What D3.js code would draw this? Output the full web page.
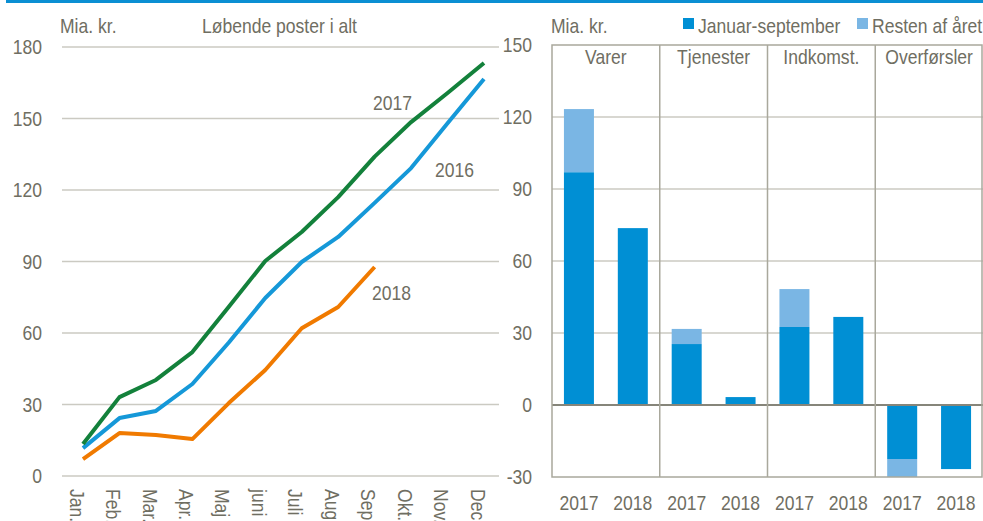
<!DOCTYPE html>
<html>
<head>
<meta charset="utf-8">
<script src="https://cdn.jsdelivr.net/npm/d3@7"></script>
<style>
  body { margin: 0; background: #fff; }
  text { font-family: "Liberation Sans Narrow", "Arial Narrow", "Liberation Sans", sans-serif; fill: #6f6e62; }
</style>
</head>
<body>
<svg id="chart" width="983" height="521"></svg>
<script>
// left panel: cumulative current account, bn kr.
const months = ["Jan.", "Feb.", "Mar.", "Apr.", "Maj", "juni", "Juli", "Aug.", "Sep.", "Okt.", "Nov.", "Dec."];
const y2016 = [11.7, 24.3, 27.3, 38.6, 56, 74.7, 89.8, 100.3, 114.6, 129.2, 148, 166.6];
const y2017 = [13.4, 33.1, 40.3, 52, 71, 90.2, 102.4, 117, 134, 148.5, 160.7, 173.3];
const y2018 = [7.1, 18, 17.2, 15.5, 30.6, 44.5, 62, 70.9, 87.7];
const leftTicks = [0, 30, 60, 90, 120, 150, 180];

// right panel: by component
const groups = ["Varer", "Tjenester", "Indkomst.", "Overførsler"];
const years = ["2017", "2018"];
const janSep = [[97, 73.7], [25.4, 3.3], [32.5, 36.7], [-22.5, -26.7]];
const rest = [[26.3, 0], [6.3, 0], [15.8, 0], [-7.5, 0]];
const rightTicks = [-30, 0, 30, 60, 90, 120, 150];

const svg = d3.select("#chart");
const fs = 21;
const gridCol = "#cbcac2", boxCol = "#a9a89c";

// top blue rule
svg.append("rect").attr("x", 6).attr("y", 0).attr("width", 977).attr("height", 3).attr("fill", "#0a8fd3");

// ---------- left ----------
const xL = d3.scalePoint().domain(months).range([83, 484]);
const yL = d3.scaleLinear().domain([0, 180]).range([476, 47]);

svg.append("g").selectAll("line").data(leftTicks).join("line")
    .attr("x1", 62).attr("x2", 499)
    .attr("y1", d => yL(d)).attr("y2", d => yL(d))
    .attr("stroke", gridCol).attr("stroke-width", 1.5);

svg.append("g").selectAll("text").data(leftTicks).join("text")
    .attr("x", 42).attr("y", d => yL(d)).attr("dy", "0.35em")
    .attr("text-anchor", "end").attr("font-size", fs).text(d => d);

svg.append("g").selectAll("text").data(months).join("text")
    .attr("transform", d => "translate(" + (xL(d) - 6) + ",489) rotate(90)")
    .attr("dy", "0.35em").attr("font-size", fs).text(d => d);

const line = d3.line().x((d, i) => xL(months[i])).y(d => yL(d));
const series = [
    {name: "2016", values: y2016, color: "#1598d8", lx: 435, ly: 177},
    {name: "2017", values: y2017, color: "#13813b", lx: 373, ly: 110},
    {name: "2018", values: y2018, color: "#f07a00", lx: 372, ly: 300}
];
svg.append("g").selectAll("path").data(series).join("path")
    .attr("d", d => line(d.values))
    .attr("fill", "none").attr("stroke", d => d.color)
    .attr("stroke-width", 4).attr("stroke-linejoin", "round");
svg.append("g").selectAll("text").data(series).join("text")
    .attr("x", d => d.lx).attr("y", d => d.ly).attr("font-size", fs).text(d => d.name);

svg.append("text").attr("x", 60).attr("y", 33).attr("font-size", fs).text("Mia. kr.");
svg.append("text").attr("x", 202).attr("y", 33).attr("font-size", fs).text("Løbende poster i alt");

// ---------- right ----------
const x0 = 552, x1 = 983;
const xG = d3.scaleBand().domain(groups).range([x0, x1]);
const xY = d3.scaleBand().domain(years).range([0, xG.bandwidth()]);
const yR = d3.scaleLinear().domain([-30, 150]).range([477, 45]);
const barW = 30;

svg.append("g").selectAll("line").data(rightTicks.filter(t => t > -30 && t < 150 && t != 0)).join("line")
    .attr("x1", x0).attr("x2", x1)
    .attr("y1", d => yR(d)).attr("y2", d => yR(d))
    .attr("stroke", gridCol).attr("stroke-width", 1.5);

svg.append("g").selectAll("text").data(rightTicks).join("text")
    .attr("x", 532).attr("y", d => yR(d)).attr("dy", "0.35em")
    .attr("text-anchor", "end").attr("font-size", fs).text(d => d);

const bars = [];
groups.forEach((g, gi) => years.forEach((yr, yi) => {
    const a = janSep[gi][yi], b = rest[gi][yi];
    bars.push({g: g, yr: yr, y0: 0, y1: a, color: "#008fd4"});
    if (b != 0) bars.push({g: g, yr: yr, y0: a, y1: a + b, color: "#7ab6e4"});
}));

svg.append("g").selectAll("rect").data(bars).join("rect")
    .attr("x", d => xG(d.g) + xY(d.yr) + (xY.bandwidth() - barW) / 2)
    .attr("width", barW)
    .attr("y", d => yR(Math.max(d.y0, d.y1)))
    .attr("height", d => Math.abs(yR(d.y0) - yR(d.y1)))
    .attr("fill", d => d.color);

// zero line
svg.append("line").attr("x1", x0).attr("x2", x1).attr("y1", yR(0)).attr("y2", yR(0))
    .attr("stroke", "#86857a").attr("stroke-width", 2);

// panel box and dividers
svg.append("rect").attr("x", x0).attr("y", yR(150)).attr("width", x1 - x0 - 1).attr("height", yR(-30) - yR(150))
    .attr("fill", "none").attr("stroke", boxCol).attr("stroke-width", 1.5);
svg.append("g").selectAll("line").data(groups.slice(1)).join("line")
    .attr("x1", d => xG(d)).attr("x2", d => xG(d))
    .attr("y1", yR(150)).attr("y2", yR(-30))
    .attr("stroke", boxCol).attr("stroke-width", 1.5);

svg.append("g").selectAll("text").data(groups).join("text")
    .attr("x", d => xG(d) + xG.bandwidth() / 2).attr("y", 64)
    .attr("text-anchor", "middle").attr("font-size", fs).text(d => d);

svg.append("g").selectAll("text").data(bars.filter(d => d.y0 == 0)).join("text")
    .attr("x", d => xG(d.g) + xY(d.yr) + xY.bandwidth() / 2).attr("y", 510)
    .attr("text-anchor", "middle").attr("font-size", fs).text(d => d.yr);

svg.append("text").attr("x", 551).attr("y", 33).attr("font-size", fs).text("Mia. kr.");

const legend = [{name: "Januar-september", color: "#008fd4", x: 683}, {name: "Resten af året", color: "#7ab6e4", x: 857}];
const lg = svg.append("g").selectAll("g").data(legend).join("g")
    .attr("transform", d => "translate(" + d.x + ",18)");
lg.append("rect").attr("width", 11).attr("height", 11).attr("fill", d => d.color);
lg.append("text").attr("x", 15).attr("y", 15).attr("font-size", fs).text(d => d.name);

// no narrow font installed: squeeze glyphs to mimic a condensed face
svg.selectAll("text").each(function() {
    const len = this.getComputedTextLength();
    d3.select(this).attr("textLength", len * 0.835).attr("lengthAdjust", "spacingAndGlyphs");
});
</script>
</body>
</html>
